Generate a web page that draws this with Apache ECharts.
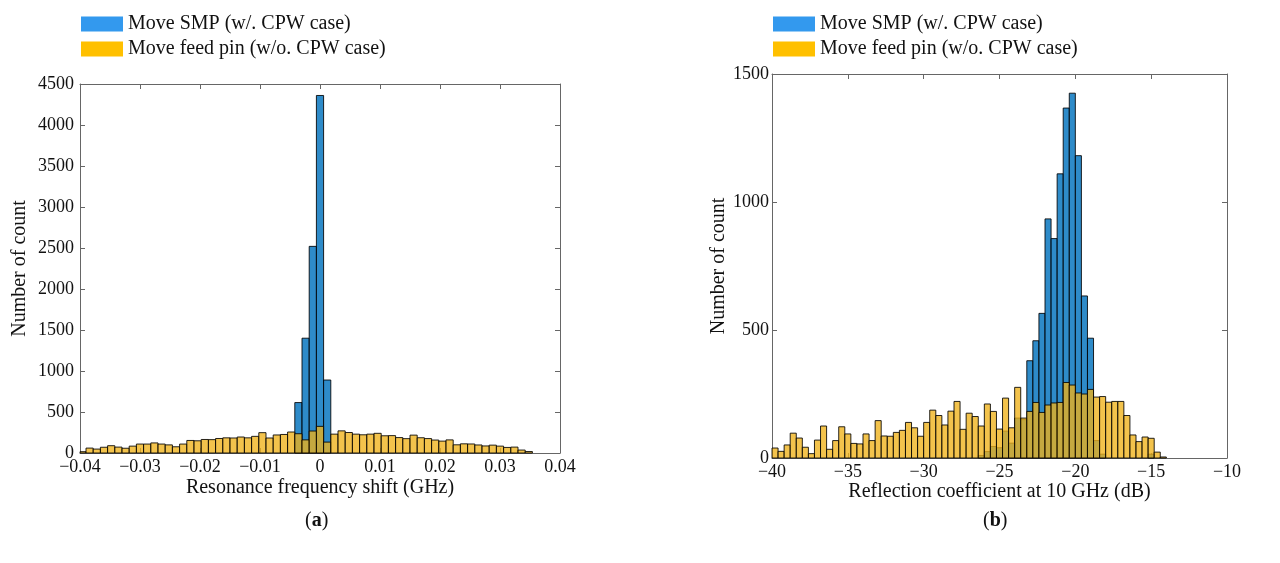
<!DOCTYPE html>
<html>
<head>
<meta charset="utf-8">
<script src="https://cdn.jsdelivr.net/npm/echarts@6/dist/echarts.min.js"></script>
<style>
  html, body { margin: 0; background: #fff; }
  #chart { width: 1280px; height: 563px; }
</style>
</head>
<body>
<div id="chart"></div>
<script>
const SMP = 'Move SMP (w/. CPW case)'
const PIN = 'Move feed pin (w/o. CPW case)'

// (a) resonance frequency shift, GHz bins
const shiftStart = -0.0402
const shiftBinWidth = 0.0012
const shiftFeedPin = [16, 60, 48, 70, 89, 72, 58, 84, 109, 109, 123, 109, 99, 76, 109, 153, 149, 165, 163, 177,
  185, 183, 195, 185, 203, 248, 183, 220, 226, 256, 235, 160, 268, 325, 133, 230, 270, 250, 230, 222,
  230, 240, 210, 212, 188, 175, 218, 186, 176, 158, 145, 160, 100, 112, 110, 98, 86, 96, 84, 68, 72, 36, 18]
const shiftSmpFirstBin = 30
const shiftSmp = [615, 1400, 2520, 4360, 890]
const shiftTicks = { min: -0.04, max: 0.04, interval: 0.01 }
const countTicksA = { min: 0, max: 4500, interval: 500 }

// (b) reflection coefficient at 10 GHz, dB bins
const reflStart = -40
const reflBinWidth = 0.4
const reflFeedPin = [39, 26, 51, 97, 78, 42, 17, 70, 125, 34, 68, 122, 94, 57, 55, 94, 68, 146, 86, 85,
  100, 108, 139, 118, 85, 139, 187, 166, 129, 183, 221, 112, 175, 162, 125, 211, 182, 113, 234, 118,
  276, 156, 182, 217, 178, 207, 215, 217, 295, 285, 254, 250, 268, 238, 240, 218, 221, 221, 166, 90,
  64, 82, 77, 23, 4]
const reflSmpFirstBin = 34
const reflSmp = [10, 25, 45, 40, 105, 58, 156, 150, 380, 458, 565, 934, 857, 1110, 1367, 1425, 1181, 633, 468, 68,
  15, 0, 0, 0, 0, 0, 0, 0, 15]
const reflTicks = { min: -40, max: -10, interval: 5 }
const countTicksB = { min: 0, max: 1500, interval: 500 }

function bins(start, width, counts, offset) {
  return counts
    .map((c, i) => [start + (i + offset) * width, start + (i + offset + 1) * width, c])
    .filter(d => d[2] > 0)
}

function renderBar(params, api) {
  const a = api.coord([api.value(0), api.value(2)])
  const b = api.coord([api.value(1), 0])
  const cs = params.coordSys
  const shape = echarts.graphic.clipRectByRect(
    { x: a[0], y: a[1], width: b[0] - a[0], height: b[1] - a[1] },
    { x: cs.x, y: cs.y, width: cs.width, height: cs.height }
  )
  return shape && { type: 'rect', shape: shape, style: api.style() }
}

const font = 'Liberation Serif'
const minus = v => String(+(+v).toFixed(2)).replace('-', '\u2212')
const plain = v => String(v)
const blueStyle = { color: 'rgba(0,114,189,0.82)', borderColor: 'rgba(0,0,0,0.85)', borderWidth: 1 }
const yellowStyle = { color: 'rgba(240,178,25,0.78)', borderColor: 'rgba(0,0,0,0.85)', borderWidth: 1 }

function axisBase(grid, ticks) {
  return {
    type: 'value', gridIndex: grid, min: ticks.min, max: ticks.max, interval: ticks.interval,
    axisLine: { show: true, onZero: false, lineStyle: { color: '#666', width: 1 } },
    axisTick: { show: true, inside: true, length: 5, lineStyle: { color: '#666' } },
    splitLine: { show: false }
  }
}

function xAxes(grid, ticks, name, gap) {
  return [
    Object.assign(axisBase(grid, ticks), {
      position: 'bottom', name: name, nameLocation: 'middle', nameGap: gap, nameMoveOverlap: false,
      nameTextStyle: { fontFamily: font, fontSize: 20, color: '#111' },
      axisLabel: { fontFamily: font, fontSize: 18, color: '#111', margin: 5, formatter: minus }
    }),
    Object.assign(axisBase(grid, ticks), { position: 'top', axisLabel: { show: false } })
  ]
}

function yAxes(grid, ticks, gap, margin) {
  return [
    Object.assign(axisBase(grid, ticks), {
      position: 'left', name: 'Number of count', nameLocation: 'middle', nameGap: gap,
      nameTextStyle: { fontFamily: font, fontSize: 20, color: '#111' },
      axisLabel: { fontFamily: font, fontSize: 18, color: '#111', margin: margin, formatter: plain }
    }),
    Object.assign(axisBase(grid, ticks), { position: 'right', axisLabel: { show: false } })
  ]
}

function legendAt(left) {
  return {
    left: left, top: 9, orient: 'vertical', icon: 'rect', itemWidth: 42, itemHeight: 15, itemGap: 5,
    selectedMode: false,
    textStyle: { fontFamily: font, fontSize: 20, color: '#111' },
    data: [
      { name: SMP, itemStyle: { color: '#3399ee', borderWidth: 0, opacity: 1 } },
      { name: PIN, itemStyle: { color: '#ffc000', borderWidth: 0, opacity: 1 } }
    ]
  }
}

function series(name, xi, yi, data, style) {
  return {
    type: 'custom', name: name, xAxisIndex: xi, yAxisIndex: yi, renderItem: renderBar,
    encode: { x: [0, 1], y: 2 }, itemStyle: style, data: data, animation: false
  }
}

const chart = echarts.init(document.getElementById('chart'))
const option = {
  animation: false,
  grid: [
    { left: 80, right: 720, top: 84, bottom: 110 },
    { left: 772, right: 53, top: 74, bottom: 105 }
  ],
  legend: [legendAt(76), legendAt(768)],
  xAxis: xAxes(0, shiftTicks, 'Resonance frequency shift (GHz)', 25)
    .concat(xAxes(1, reflTicks, 'Reflection coefficient at 10 GHz (dB)', 24)),
  yAxis: yAxes(0, countTicksA, 50, 6).concat(yAxes(1, countTicksB, 42, 3)),
  series: [
    series(SMP, 0, 0, bins(shiftStart, shiftBinWidth, shiftSmp, shiftSmpFirstBin), blueStyle),
    series(PIN, 0, 0, bins(shiftStart, shiftBinWidth, shiftFeedPin, 0), yellowStyle),
    series(SMP, 2, 2, bins(reflStart, reflBinWidth, reflSmp, reflSmpFirstBin), blueStyle),
    series(PIN, 2, 2, bins(reflStart, reflBinWidth, reflFeedPin, 0), yellowStyle)
  ],
  graphic: [
    {
      type: 'text', left: 305, top: 511,
      style: { text: '({b|a})', fontFamily: font, fontSize: 20, fill: '#111', rich: { b: { fontWeight: 'bold', fontFamily: font, fontSize: 20 } } }
    },
    {
      type: 'text', left: 983, top: 511,
      style: { text: '({b|b})', fontFamily: font, fontSize: 20, fill: '#111', rich: { b: { fontWeight: 'bold', fontFamily: font, fontSize: 20 } } }
    }
  ]
}
option && chart.setOption(option)
</script>
</body>
</html>
